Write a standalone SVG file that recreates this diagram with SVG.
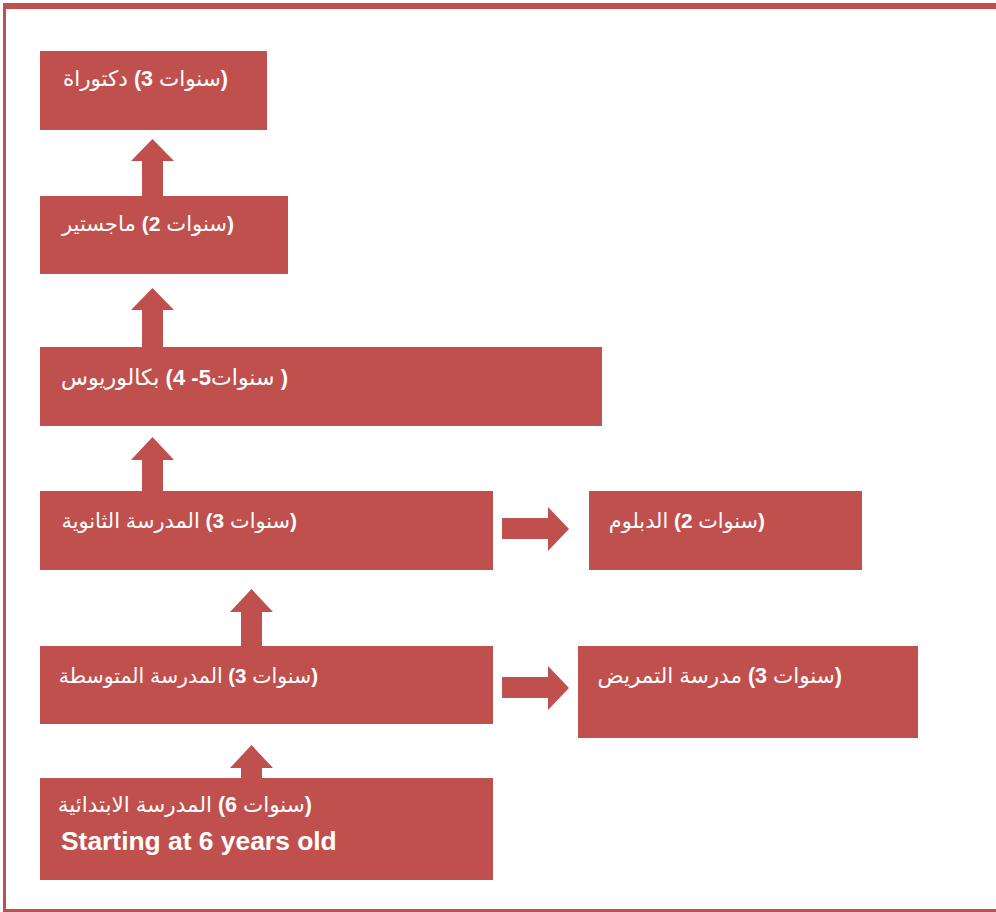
<svg xmlns="http://www.w3.org/2000/svg" width="996" height="912" viewBox="0 0 996 912">
<style>
.box{fill:#C0504D}
.arr{fill:#C0504D}
.t{fill:#fff;font-family:"Liberation Sans","DejaVu Sans",sans-serif;font-size:21.5px}
.b{font-weight:bold}
.en{fill:#fff;font-family:"Liberation Sans",Arial,sans-serif;font-size:26.4px;font-weight:bold}
</style>
<rect width="996" height="912" fill="#fff"/>
<g id="frame" fill="#C0504D">
<rect x="3" y="3" width="993" height="6"/>
<rect x="3" y="3" width="3" height="909"/>
<rect x="3" y="909" width="993" height="3"/>
</g>
<g id="connectors" class="arr">
<polygon class="arr" points="142,196 142,161 131,161 152.5,139 174,161 163,161 163,196"/>
<polygon class="arr" points="142,347 142,310 131,310 152.5,288 174,310 163,310 163,347"/>
<polygon class="arr" points="142,491 142,460 131,460 152.5,437 174,460 163,460 163,491"/>
<polygon class="arr" points="241,646 241,612 230,612 251.5,589 273,612 262,612 262,646"/>
<polygon class="arr" points="241,778 241,768 230,768 251.5,745 273,768 262,768 262,778"/>
<polygon class="arr" points="502,518 548,518 548,507 569,529 548,551 548,539 502,539"/>
<polygon class="arr" points="502,677 548,677 548,666 569,688 548,710 548,698 502,698"/>
</g>
<g id="n-doctorate">
<rect class="box" x="40" y="51" width="227" height="79"/>
<text class="t" x="228" y="86" direction="rtl"><tspan class="b">(</tspan>سنوات <tspan class="b">3)</tspan> دكتوراة</text>
</g>
<g id="n-master">
<rect class="box" x="40" y="196" width="248" height="78"/>
<text class="t" x="234" y="231" direction="rtl" style="font-size:21.1px"><tspan class="b">(</tspan>سنوات <tspan class="b">2)</tspan> ماجستير</text>
</g>
<g id="n-bachelor">
<rect class="box" x="40" y="347" width="562" height="79"/>
<text class="t" x="288" y="385" direction="rtl" style="font-size:22.1px"><tspan class="b">( </tspan>سنوات<tspan class="b">5- 4)</tspan> بكالوريوس</text>
</g>
<g id="n-secondary">
<rect class="box" x="40" y="491" width="453" height="79"/>
<text class="t" x="297" y="528" direction="rtl" style="font-size:20.9px"><tspan class="b">(</tspan>سنوات <tspan class="b">3)</tspan> المدرسة الثانوية</text>
</g>
<g id="n-diploma">
<rect class="box" x="589" y="491" width="273" height="79"/>
<text class="t" x="765" y="528" direction="rtl" style="font-size:20.8px"><tspan class="b">(</tspan>سنوات <tspan class="b">2)</tspan> الدبلوم</text>
</g>
<g id="n-intermediate">
<rect class="box" x="40" y="646" width="453" height="78"/>
<text class="t" x="318" y="683" direction="rtl" style="font-size:20.5px"><tspan class="b">(</tspan>سنوات <tspan class="b">3)</tspan> المدرسة المتوسطة</text>
</g>
<g id="n-nursing">
<rect class="box" x="578" y="646" width="340" height="92"/>
<text class="t" x="842" y="683" direction="rtl"><tspan class="b">(</tspan>سنوات <tspan class="b">3)</tspan> مدرسة التمريض</text>
</g>
<g id="n-primary">
<rect class="box" x="40" y="778" width="453" height="102"/>
<text class="t" x="312" y="812" direction="rtl"><tspan class="b">(</tspan>سنوات <tspan class="b">6)</tspan> المدرسة الابتدائية</text>
<text class="en" x="61" y="850">Starting at 6 years old</text>
</g>
</svg>
